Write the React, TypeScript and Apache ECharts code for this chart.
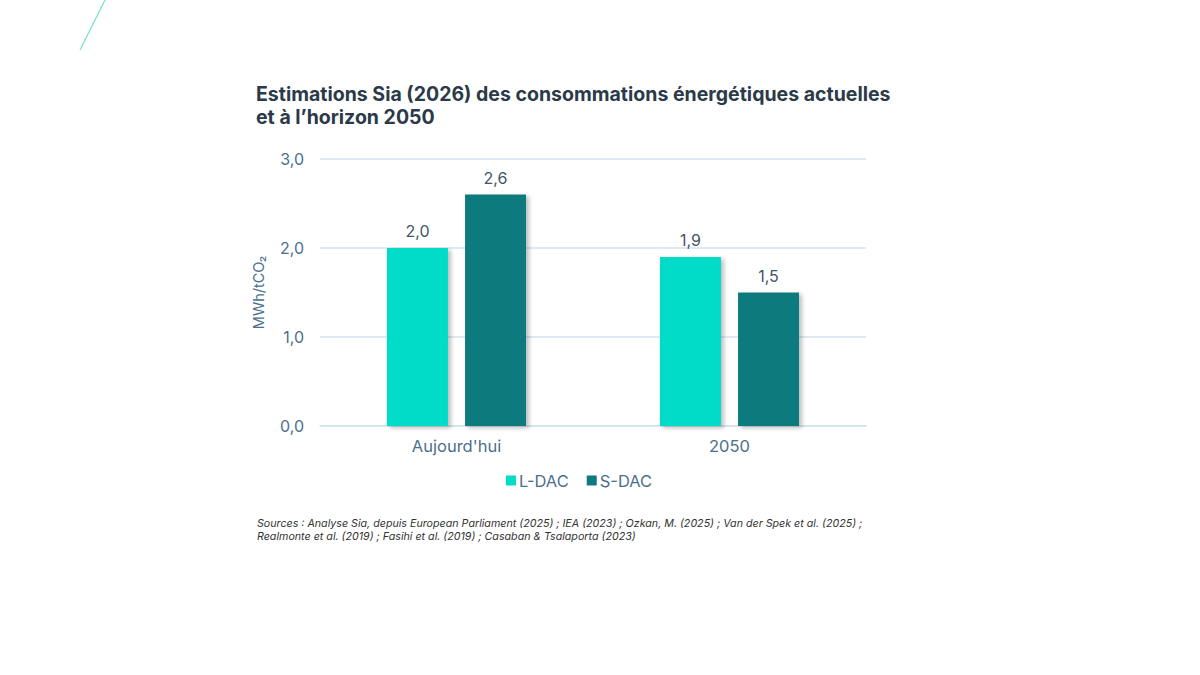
import React, { useEffect, useRef } from "react";
import * as echarts from "echarts";

const categories = ["Aujourd'hui", "2050"];
const lDac = [2.0, 1.9];
const sDac = [2.6, 1.5];
const seriesNames = ["L-DAC", "S-DAC"];
const yTicks = { min: 0, max: 3, interval: 1 };

const fmt = (v: number) => v.toFixed(1).replace(".", ",");

export default function App() {
  const ref = useRef<HTMLDivElement>(null);
  useEffect(() => {
    const chart = echarts.init(ref.current!, null, { renderer: "svg" });
    const font = "Inter, 'Noto Sans', sans-serif";
    const axisColor = "#4C6F8C";
    const shadow = {
      shadowColor: "rgba(0,0,0,0.25)",
      shadowBlur: 4,
      shadowOffsetX: 3,
      shadowOffsetY: 2,
    };
    chart.setOption({
      animation: false,
      textStyle: { fontFamily: font },
      title: {
        text: "Estimations Sia (2026) des consommations énergétiques actuelles\net à l’horizon 2050",
        left: 256,
        top: 82,
        padding: 0,
        textStyle: {
          fontFamily: font,
          fontSize: 19.5,
          fontWeight: "bold",
          color: "#2B3A48",
          lineHeight: 23,
        },
      },
      legend: {
        data: seriesNames,
        left: 506,
        top: 472,
        padding: 0,
        itemWidth: 10,
        itemHeight: 10,
        itemGap: 18,
        icon: "rect",
        textStyle: { fontFamily: font, fontSize: 16.5, color: axisColor, padding: [0, 0, 0, -2] },
      },
      grid: { left: 320, right: 334, top: 159, bottom: 249 },
      xAxis: {
        type: "category",
        data: categories,
        axisLine: { show: true, lineStyle: { color: "#D3E2EC", width: 1.5 } },
        axisTick: { show: false },
        axisLabel: { fontFamily: font, fontSize: 16.5, color: axisColor, margin: 11 },
      },
      yAxis: {
        type: "value",
        min: yTicks.min,
        max: yTicks.max,
        interval: yTicks.interval,
        name: "MWh/tCO₂",
        nameLocation: "middle",
        nameGap: 54,
        nameTextStyle: { fontFamily: font, fontSize: 14.5, color: axisColor },
        axisLine: { show: false },
        axisTick: { show: false },
        splitLine: { lineStyle: { color: "#D3E2EC", width: 1.5 } },
        axisLabel: {
          fontFamily: font,
          fontSize: 16,
          color: axisColor,
          margin: 16,
          formatter: (v: number) => fmt(v),
        },
      },
      series: [
        {
          name: seriesNames[0],
          type: "bar",
          data: lDac,
          barWidth: 61,
          barGap: "28%",
          itemStyle: { color: "#03DCC8", ...shadow },
          label: {
            show: true,
            position: "top",
            distance: 9,
            fontFamily: font,
            fontSize: 16,
            color: "#3F5568",
            formatter: (p: any) => fmt(p.value),
          },
        },
        {
          name: seriesNames[1],
          type: "bar",
          data: sDac,
          barWidth: 61,
          itemStyle: { color: "#0E7A7E", ...shadow },
          label: {
            show: true,
            position: "top",
            distance: 9,
            fontFamily: font,
            fontSize: 16,
            color: "#3F5568",
            formatter: (p: any) => fmt(p.value),
          },
        },
      ],
      graphic: [
        {
          type: "line",
          shape: { x1: 80, y1: 50, x2: 105, y2: 0 },
          style: { stroke: "#7FDCD6", lineWidth: 1.2 },
        },
        {
          type: "text",
          left: 257,
          top: 517,
          style: {
            text:
              "Sources : Analyse Sia, depuis European Parliament (2025) ; IEA (2023) ; Ozkan, M. (2025) ; Van der Spek et al. (2025) ;\nRealmonte et al. (2019) ; Fasihi et al. (2019) ; Casaban & Tsalaporta (2023)",
            font: "italic 10.7px " + font,
            fill: "#333",
            lineHeight: 13,
          },
        },
      ],
    });
    return () => chart.dispose();
  }, []);
  return <div ref={ref} style={{ width: 1200, height: 675, position: "absolute", left: 0, top: 0 }} />;
}
